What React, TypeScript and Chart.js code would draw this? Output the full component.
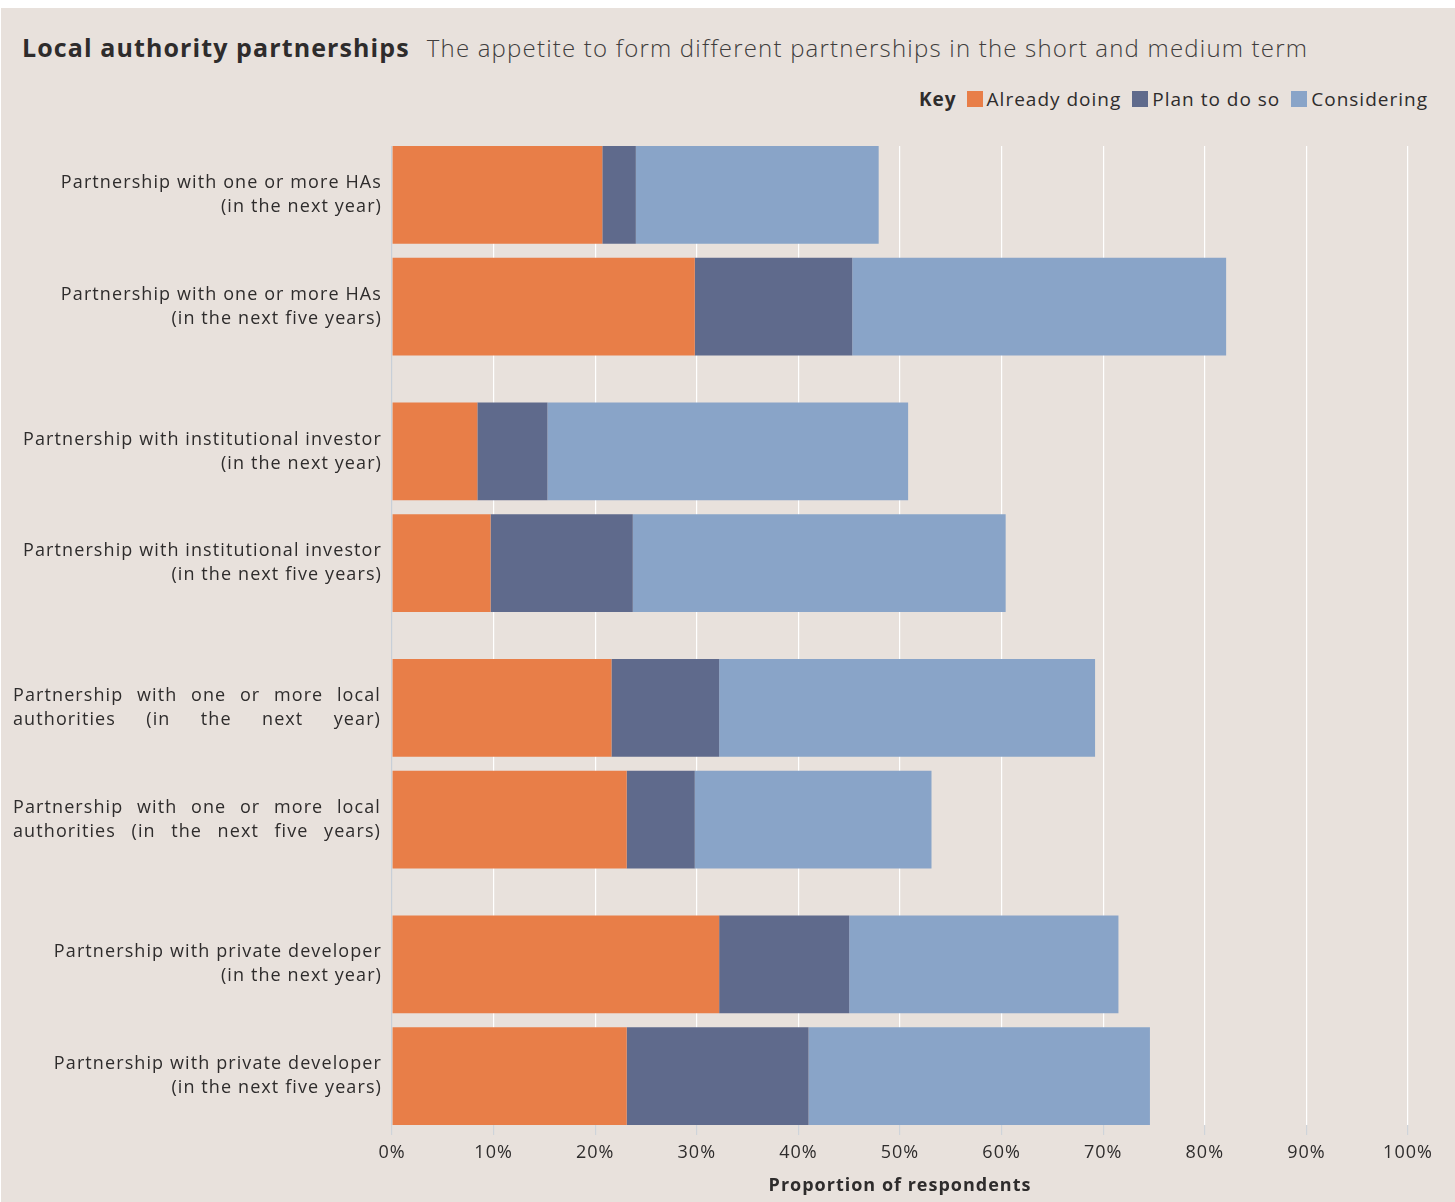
import React, { useEffect, useRef } from 'react';
import { Chart, registerables } from 'chart.js';

Chart.register(...registerables);

// ---------- data ----------
const categories: string[][] = [
  ['Partnership with one or more HAs', '(in the next year)'],
  ['Partnership with one or more HAs', '(in the next five years)'],
  ['Partnership with institutional investor', '(in the next year)'],
  ['Partnership with institutional investor', '(in the next five years)'],
  ['Partnership with one or more local', 'authorities (in the next year)'],
  ['Partnership with one or more local', 'authorities (in the next five years)'],
  ['Partnership with private developer', '(in the next year)'],
  ['Partnership with private developer', '(in the next five years)'],
];
const justifiedLabels = [false, false, false, false, true, true, false, false];
const groups = ['HAs', 'Institutional investor', 'Local authorities', 'Private developer'];
const horizons = ['next year', 'next five years'];
const seriesNames = ['Already doing', 'Plan to do so', 'Considering'];
const alreadyDoing = [20.7, 29.8, 8.4, 9.7, 21.6, 23.1, 32.2, 23.1];
const planToDoSo = [3.3, 15.5, 6.9, 14.0, 10.6, 6.7, 12.8, 17.9];
const considering = [23.9, 36.8, 35.5, 36.7, 37.0, 23.3, 26.5, 33.6];
const seriesValues = [alreadyDoing, planToDoSo, considering];

// ---------- style ----------
const FONT = '"Open Sans", "DejaVu Sans", sans-serif';
const TEXT = '#2e2c2c';
const BG = '#e8e1dc';
const COLORS = ['#e87e48', '#5f6a8c', '#89a4c8'];
const CAT_PCT = 224 / 257;
const BAR_PCT = 0.875;
const LINE_H = 24;
const JUSTIFY_W = 368;

const spacingPlugin = {
  id: 'spacing',
  beforeDraw(chart: any) {
    (chart.ctx as any).letterSpacing = '1px';
  },
};

const labelPlugin = {
  id: 'catLabels',
  afterDatasetsDraw(chart: any) {
    const ctx = chart.ctx as CanvasRenderingContext2D;
    const right = chart.chartArea.left - 11;
    ctx.save();
    ctx.font = `18px ${FONT}`;
    (ctx as any).letterSpacing = '1.1px';
    ctx.fillStyle = TEXT;
    ctx.textBaseline = 'middle';
    categories.forEach((lines, i) => {
      const meta = chart.getDatasetMeta((i % 2) * seriesNames.length);
      const el = meta.data[Math.floor(i / 2)];
      if (!el) return;
      const cy = el.y;
      lines.forEach((line, li) => {
        const y = cy + (li - (lines.length - 1) / 2) * LINE_H;
        if (justifiedLabels[i]) {
          const words = line.split(' ');
          const widths = words.map((w) => ctx.measureText(w).width);
          const total = widths.reduce((a, b) => a + b, 0);
          const gap = words.length > 1 ? (JUSTIFY_W - total) / (words.length - 1) : 0;
          let x = right - JUSTIFY_W;
          ctx.textAlign = 'left';
          words.forEach((w, wi) => {
            ctx.fillText(w, x, y);
            x += widths[wi] + gap;
          });
        } else {
          ctx.textAlign = 'right';
          ctx.fillText(line, right + 1, y);
        }
      });
    });
    ctx.restore();
  },
};

export default function App() {
  const ref = useRef<HTMLCanvasElement | null>(null);

  useEffect(() => {
    if (!ref.current) return;
    const datasets: any[] = [];
    horizons.forEach((h, hi) => {
      seriesNames.forEach((name, si) => {
        datasets.push({
          label: `${name} (${h})`,
          data: groups.map((_, g) => seriesValues[si][g * 2 + hi]),
          backgroundColor: COLORS[si],
          borderWidth: 0,
          stack: h,
        });
      });
    });
    const edge = (1 - CAT_PCT) / 2 + (CAT_PCT / 2) * (1 - BAR_PCT) / 2;
    const chart = new Chart(ref.current, {
      type: 'bar',
      data: { labels: groups, datasets },
      options: {
        indexAxis: 'y',
        responsive: false,
        animation: false,
        layout: { padding: { left: 392, right: 47, top: 146, bottom: 0 } },
        datasets: { bar: { categoryPercentage: CAT_PCT, barPercentage: BAR_PCT } },
        plugins: {
          legend: { display: false },
          tooltip: { enabled: false },
          title: { display: false },
        },
        scales: {
          x: {
            type: 'linear',
            min: 0,
            max: 100,
            stacked: true,
            position: 'bottom',
            ticks: {
              stepSize: 10,
              callback: (v: any) => `${v}%`,
              font: { family: FONT, size: 18 },
              color: TEXT,
              padding: 7,
              maxRotation: 0,
            },
            grid: {
              color: (c: any) => (c.index === 0 ? '#c8cfd8' : '#ffffff'),
              lineWidth: 1.2,
              drawTicks: true,
              tickLength: 10,
              tickColor: '#cfd4da',
            },
            border: { display: false },
            title: {
              display: true,
              text: 'Proportion of respondents',
              font: { family: FONT, size: 18, weight: 'bold' },
              color: TEXT,
              padding: { top: 0, bottom: 5 },
            },
            afterFit: (s: any) => {
              s.height = 77;
            },
          },
          y: {
            type: 'category',
            stacked: true,
            display: false,
            afterBuildTicks: (s: any) => {
              s._startValue = -0.5 + edge;
              s._valueRange = groups.length - 2 * edge;
            },
          },
        },
      } as any,
      plugins: [spacingPlugin, labelPlugin],
    });
    return () => chart.destroy();
  }, []);

  return (
    <div style={{ position: 'absolute', left: 0, top: 0, width: 1455, height: 1202, overflow: 'hidden', fontFamily: FONT }}>
      <div style={{ position: 'absolute', left: 1, top: 8, width: 1454, height: 1194, background: BG }} />
      <div style={{ position: 'absolute', left: 22, top: 30, whiteSpace: 'nowrap', color: TEXT, lineHeight: '34px' }}>
        <span style={{ fontWeight: 700, fontSize: 25, letterSpacing: 1.1 }}>Local authority partnerships</span>
        <span style={{ fontWeight: 300, fontSize: 24, color: '#3f3d3c', marginLeft: 17, letterSpacing: 1.2 }}>
          The appetite to form different partnerships in the short and medium term
        </span>
      </div>
      <div
        style={{
          position: 'absolute',
          right: 1455 - 1428,
          top: 86,
          display: 'flex',
          alignItems: 'center',
          whiteSpace: 'nowrap',
          fontSize: 19,
          color: TEXT,
          lineHeight: '26px',
          letterSpacing: 1,
        }}
      >
        <span style={{ fontWeight: 700, marginRight: 10 }}>Key</span>
        {seriesNames.map((n, i) => (
          <span key={n} style={{ display: 'flex', alignItems: 'center', marginLeft: i === 0 ? 0 : 11 }}>
            <span style={{ display: 'inline-block', width: 16, height: 16, background: COLORS[i], marginRight: 4 }} />
            {n}
          </span>
        ))}
      </div>
      <canvas ref={ref} width={1455} height={1202} style={{ position: 'absolute', left: 0, top: 0 }} />
    </div>
  );
}
